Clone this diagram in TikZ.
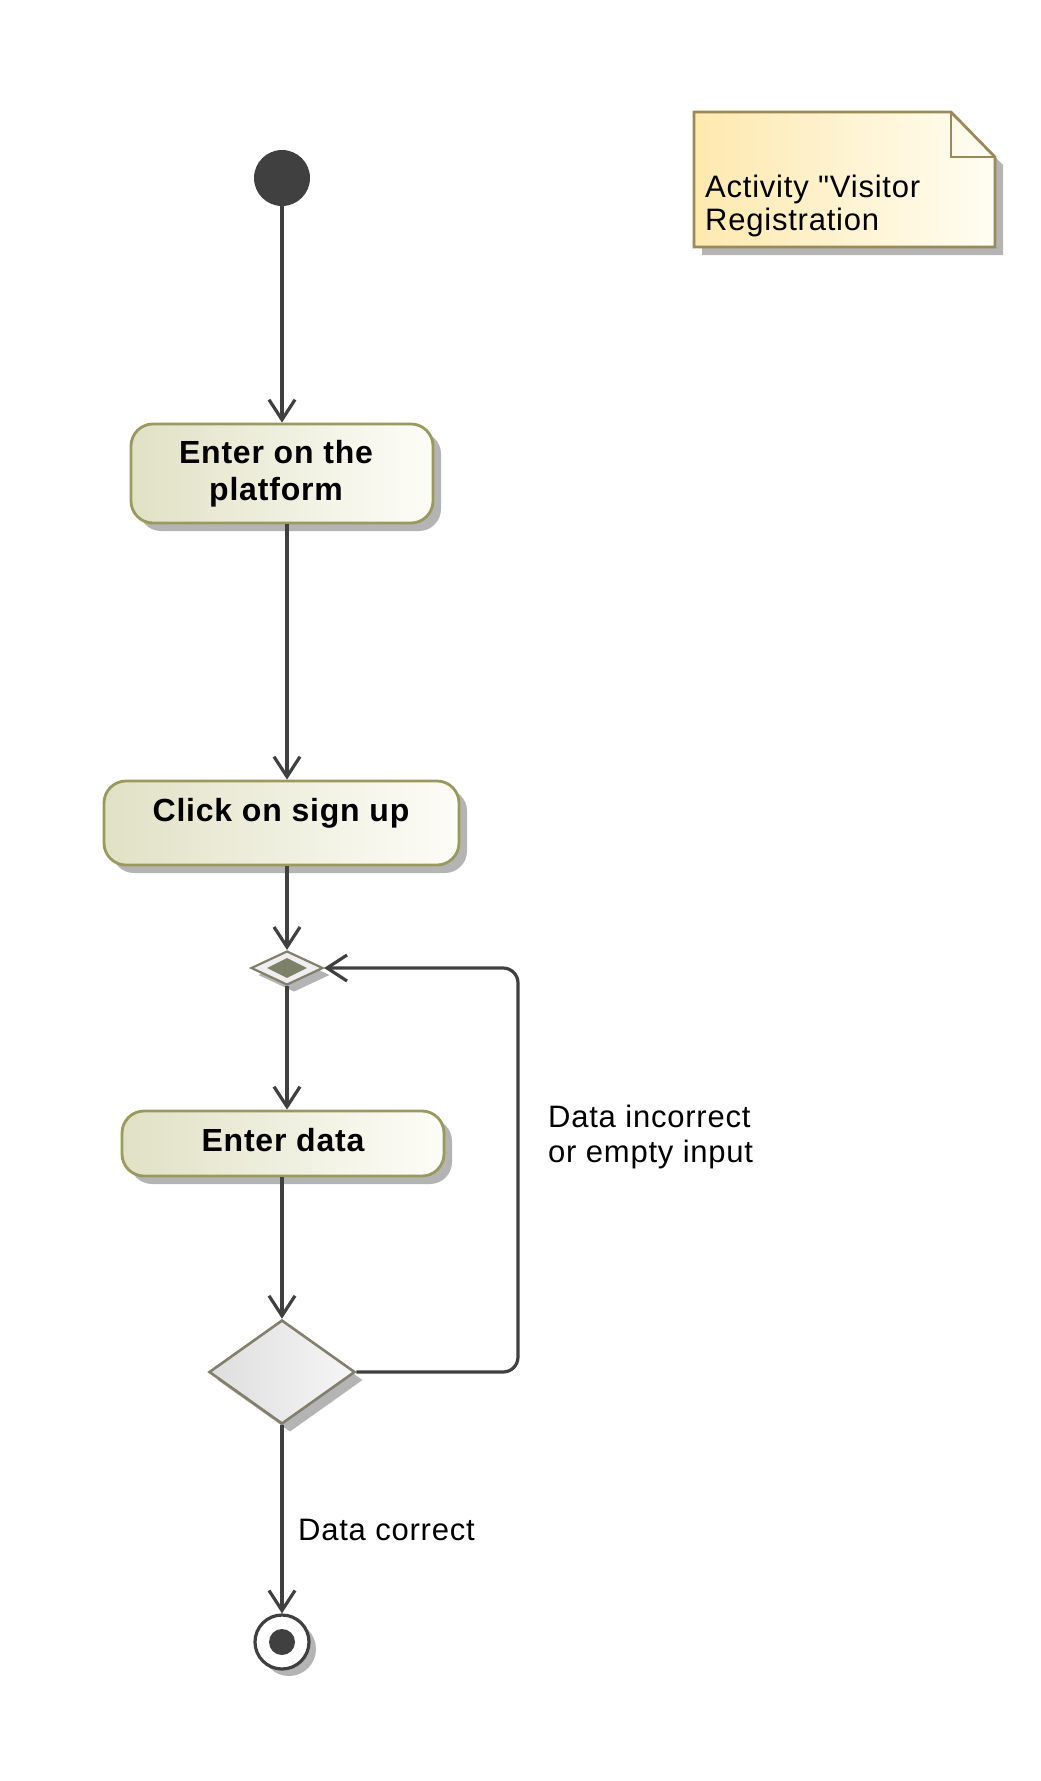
\documentclass[tikz,border=0pt]{standalone}
\usepackage{fontspec}
\setmainfont{Liberation Sans}
\newfontfamily\labfont[LetterSpace=2.5]{Liberation Sans}
\usetikzlibrary{arrows.meta,shapes.geometric,shadows}
\definecolor{linec}{HTML}{404040}
\definecolor{actborder}{HTML}{9A9A5E}
\definecolor{actleft}{HTML}{E1E1C6}
\definecolor{actright}{HTML}{FDFDF8}
\definecolor{shadowc}{HTML}{B4B4B4}
\definecolor{noteborder}{HTML}{9A8A58}
\definecolor{noteleft}{HTML}{FEE9AE}
\definecolor{noteright}{HTML}{FFFDF3}
\definecolor{diamborder}{HTML}{80806C}
\definecolor{mergein}{HTML}{7E816A}
\definecolor{mergeout}{HTML}{EFEFEF}
\definecolor{decleft}{HTML}{DEDEDE}
\definecolor{decright}{HTML}{F6F6F6}
\begin{document}
\begin{tikzpicture}[x=1pt,y=-1pt,
  actbox/.style={rectangle, rounded corners=22pt, draw=actborder, line width=2.8pt,
    left color=actleft, right color=actright, inner sep=0pt,
    drop shadow={shadow xshift=8pt, shadow yshift=-8pt, fill=shadowc, opacity=1}},
  acttext/.style={font=\labfont\bfseries\fontsize{32pt}{37pt}\selectfont, align=center, inner sep=0pt},
  plaintext/.style={font=\labfont\fontsize{31pt}{35pt}\selectfont, align=left, inner sep=0pt},
  flow/.style={draw=linec, line width=3.2pt, -{Straight Barb[length=20pt,width=26pt]}},
  shd/.style={drop shadow={shadow xshift=7pt, shadow yshift=-7pt, fill=shadowc, opacity=1}}
]
\path[use as bounding box] (0,0) rectangle (1041,1781);

% note
\fill[shadowc] (702,120) -- (959,120) -- (1003,165) -- (1003,255) -- (702,255) -- cycle;
\path[draw=noteborder, line width=2.8pt, left color=noteleft, right color=noteright]
  (694,112) -- (951,112) -- (995,157) -- (995,247) -- (694,247) -- cycle;
\draw[noteborder, line width=2.8pt] (951,112) -- (951,157) -- (995,157);
\node[plaintext, anchor=base west, font=\labfont\fontsize{31pt}{33pt}\selectfont] (notetext) at (705,230) {Activity "Visitor\\Registration};

% start
\node[circle, fill=linec, minimum size=56pt, inner sep=0pt] (start) at (282,178) {};

% activities
\node[actbox, minimum width=302pt, minimum height=99pt] (a1) at (282,473.5) {};
\node[acttext, anchor=base] (a1t) at (276,500) {Enter on the\\platform};

\node[actbox, minimum width=355pt, minimum height=84pt] (a2) at (281.5,823) {};
\node[acttext, anchor=base] (a2t) at (281,821) {Click on sign up};

\node[actbox, minimum width=322pt, minimum height=65pt] (a3) at (283,1143.5) {};
\node[acttext, anchor=base] (a3t) at (283,1151) {Enter data};

% merge
\node[diamond, minimum width=72pt, minimum height=34pt, inner sep=0pt, draw=diamborder,
  line width=2.2pt, fill=mergeout, shd] (merge) at (287,968) {};
\node[diamond, minimum width=40pt, minimum height=20pt, inner sep=0pt, fill=mergein] (mergein) at (287,968) {};

% decision
\node[diamond, minimum width=146pt, minimum height=104pt, inner sep=0pt, draw=diamborder,
  line width=2.6pt, left color=decleft, right color=decright,
  drop shadow={shadow xshift=8pt, shadow yshift=-8pt, fill=shadowc, opacity=1}] (dec) at (282,1372) {};

% final
\node[circle, minimum size=54pt, inner sep=0pt, draw=linec, line width=3.2pt, fill=white, shd] (final) at (282,1642) {};
\node[circle, minimum size=26pt, inner sep=0pt, fill=linec] (finalin) at (282,1642) {};

\coordinate (loopx) at (518,968);

% connectors
\draw[flow] (start) -- (a1.north -| start);
\draw[flow] (a1.south -| merge) -- (a2.north -| merge);
\draw[flow] (a2.south -| merge) -- (merge.north);
\draw[flow] (merge.south) -- (a3.north -| merge);
\draw[flow] (a3.south -| dec) -- (dec.north);
\draw[flow] (dec.south) -- (final.north);
\draw[flow, rounded corners=15pt] (dec.east) -- (dec.east -| loopx) -- (loopx) -- (merge.east);

% labels
\node[plaintext, anchor=base west] (l1) at (548,1162) {Data incorrect\\or empty input};
\node[plaintext, anchor=base west] (l2) at (298,1540) {Data correct};
\end{tikzpicture}
\end{document}
